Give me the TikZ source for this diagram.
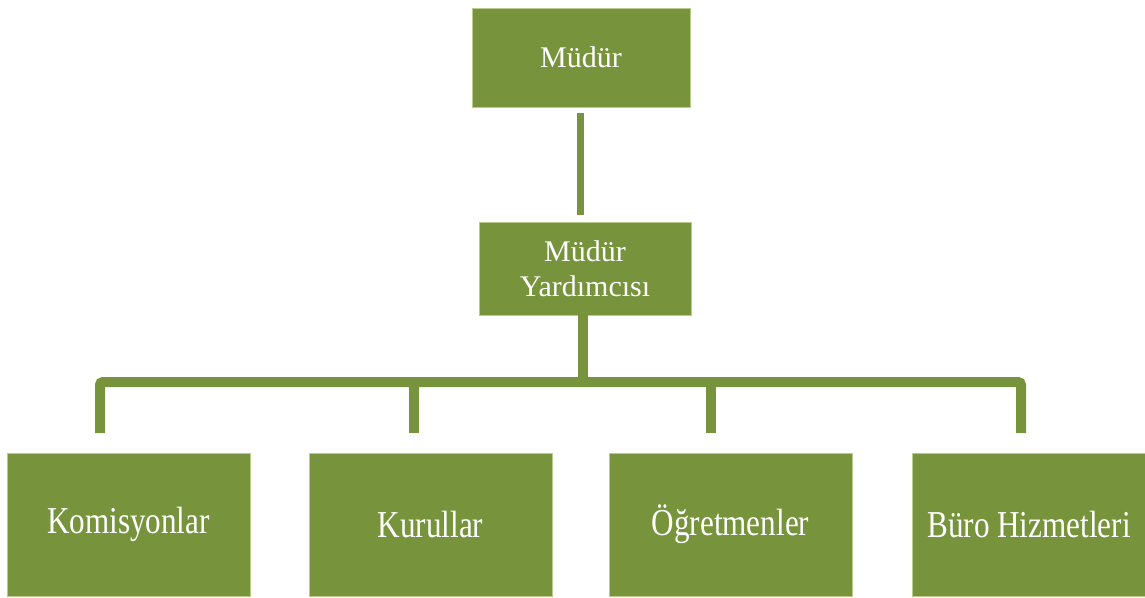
\documentclass[tikz,border=0pt]{standalone}
\usepackage{fontspec}
\setmainfont{Liberation Serif}
\newfontfamily\condfont{Liberation Serif}[FakeStretch=0.82]
\definecolor{olive}{HTML}{77933C}
\definecolor{oliveedge}{HTML}{B9CC8C}
\begin{document}
\begin{tikzpicture}[x=1pt,y=-1pt,
  box/.style={fill=olive,draw=oliveedge,line width=0.8pt,inner sep=0pt,text=white,align=center},
  topbox/.style={box,font=\fontsize{30}{35}\selectfont},
  lowbox/.style={box,minimum height=143pt,font=\condfont\fontsize{38}{44}\selectfont},
  link/.style={draw=olive,line width=10pt},
  thinlink/.style={draw=olive,line width=7pt}]
\useasboundingbox (0,0) rectangle (1145,597);
\node[topbox,minimum width=218pt,minimum height=99pt] (m) at (581,57.5) {Müdür};
\node[topbox,minimum width=212pt,minimum height=93pt] (my) at (585,268.5) {Müdür\\Yardımcısı};
\node[lowbox,minimum width=243pt] (k1) at (128.5,524.5) {Komisyonlar};
\node[lowbox,minimum width=243pt] (k2) at (430.5,524.5) {Kurullar};
\node[lowbox,minimum width=243pt] (k3) at (730.5,524.5) {Öğretmenler};
\node[lowbox,minimum width=234pt] (k4) at (1029,524.5) {Büro Hizmetleri};
\coordinate (t1) at (580.5,113);
\coordinate (t2) at (580.5,215);
\coordinate (j) at (583,382);
\coordinate (d1) at (100,433);
\coordinate (d2) at (414,433);
\coordinate (d3) at (711,433);
\coordinate (d4) at (1021,433);
\draw[thinlink] (t1) -- (t2);
\draw[link] (my.south -| j) -- (j);
\draw[link,rounded corners=3pt] (d1) -- (d1 |- j) -- (d4 |- j) -- (d4);
\draw[link] (d2 |- j) -- (d2);
\draw[link] (d3 |- j) -- (d3);
\end{tikzpicture}
\end{document}
